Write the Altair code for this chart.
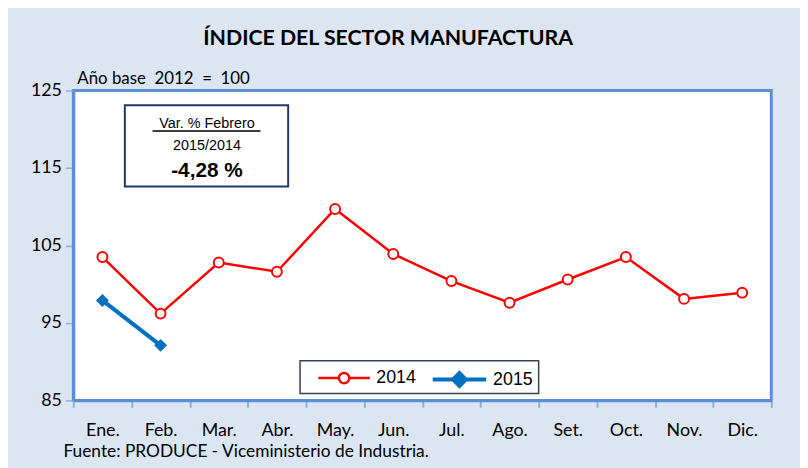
import altair as alt
import pandas as pd

months = ["Ene.", "Feb.", "Mar.", "Abr.", "May.", "Jun.", "Jul.", "Ago.", "Set.", "Oct.", "Nov.", "Dic."]
v2014 = [103.5, 96.2, 102.8, 101.6, 109.7, 103.9, 100.4, 97.6, 100.6, 103.5, 98.1, 98.9]
v2015 = [97.9, 92.1]
y_ticks = [85, 95, 105, 115, 125]
title_text = "ÍNDICE DEL SECTOR MANUFACTURA"
base_text = "Año base\u00a0 2012\u00a0 =\u00a0 100"
source_text = "Fuente: PRODUCE - Viceministerio de Industria."
box_lines = ["Var. % Febrero", "2015/2014", "-4,28 %"]

RED = "#ff0000"
BLUE = "#0070c0"
FRAME = "#5a8fd6"
CAL = "Lato"
ARIAL = "Liberation Sans"

df14 = pd.DataFrame({"mes": months, "valor": v2014, "serie": "2014"})
df15 = pd.DataFrame({"mes": months[:len(v2015)], "valor": v2015, "serie": "2015"})

x = alt.X("mes:N", sort=months,
          scale=alt.Scale(type="band", domain=months, paddingInner=0, paddingOuter=0),
          bandPosition=0.5,
          axis=alt.Axis(title=None, labelAngle=0, tickBand="extent", tickSize=7,
                        labelPadding=14, labelFont=CAL, labelFontSize=18, labelColor="black",
                        tickColor="#8cafe0", tickWidth=2, domainColor=FRAME, domainWidth=3))
y = alt.Y("valor:Q", scale=alt.Scale(domain=[85, 125], nice=False, zero=False),
          axis=alt.Axis(title=None, values=y_ticks, grid=False, tickSize=8, labelPadding=4,
                        labelFont=CAL, labelFontSize=18, labelColor="black",
                        tickColor="#8cafe0", tickWidth=1.5, domainColor=FRAME, domainWidth=3))

path14 = "M-1,0L-0.2,0M0.2,0L1,0M0.2,0A0.2,0.2,0,1,1,-0.2,0A0.2,0.2,0,1,1,0.2,0Z"
path15 = "M-1,0L-0.24,0M0.24,0L1,0M0,-0.24L0.24,0L0,0.24L-0.24,0Z"

leg_common = dict(orient="none", title=None, labelFont=ARIAL, labelFontSize=18,
                  labelColor="black", labelOffset=5, padding=0)

line14 = alt.Chart(df14).mark_line(strokeWidth=2.5).encode(
    x=x, y=y,
    color=alt.Color("serie:N", scale=alt.Scale(domain=["2014"], range=[RED]),
                    legend=alt.Legend(legendX=246, legendY=263, symbolType=path14,
                                      symbolSize=2704, symbolStrokeWidth=2.5,
                                      symbolFillColor="white", **leg_common)))
pts14 = alt.Chart(df14).mark_point(shape="circle", filled=True, fill="white", stroke=RED,
                                   strokeWidth=2, size=100, opacity=1).encode(x=x, y=y)

line15 = alt.Chart(df15).mark_line(strokeWidth=4).encode(
    x=x, y=y,
    color=alt.Color("serie:N", scale=alt.Scale(domain=["2015"], range=[BLUE]),
                    legend=alt.Legend(legendX=361, legendY=263, symbolType=path15,
                                      symbolSize=2916, symbolStrokeWidth=4,
                                      symbolFillColor=BLUE, **leg_common)))
pts15 = alt.Chart(df15).mark_point(shape="diamond", filled=True, color=BLUE,
                                   size=170, opacity=1).encode(x=x, y=y)

one = pd.DataFrame({"k": [0]})
box = alt.Chart(one).mark_rect(fill="white", stroke="#203864", strokeWidth=2).encode(
    x=alt.value(52), x2=alt.value(217), y=alt.value(15), y2=alt.value(97))
legbox = alt.Chart(one).mark_rect(fill="white", stroke="#34405a", strokeWidth=1.5).encode(
    x=alt.value(229), x2=alt.value(470), y=alt.value(273), y2=alt.value(306))
underline = alt.Chart(one).mark_rule(color="black", strokeWidth=1.5).encode(
    x=alt.value(80), x2=alt.value(189), y=alt.value(41))


def txt(s, xv, yv, **kw):
    return alt.Chart(pd.DataFrame({"t": [s]})).mark_text(baseline="alphabetic", **kw).encode(
        x=alt.value(xv), y=alt.value(yv), text="t:N")


t_title = txt(title_text, 318, -46, font=CAL, fontSize=21.5, fontWeight="bold", align="center", color="black")
t_base = txt(base_text, 4, -7, font=CAL, fontSize=17, align="left", color="black")
t_src = txt(source_text, -10, 370, font=CAL, fontSize=17.5, align="left", color="black")
t_b1 = txt(box_lines[0], 135, 38, font=ARIAL, fontSize=14.5, align="center", color="black")
t_b2 = txt(box_lines[1], 135, 60, font=ARIAL, fontSize=14.5, align="center", color="black")
t_b3 = txt(box_lines[2], 135, 87, font=ARIAL, fontSize=21, fontWeight="bold", align="center", color="black")

chart = alt.layer(
    box, legbox, underline, t_title, t_base, t_src, t_b1, t_b2, t_b3,
    line14, pts14, line15, pts15
).resolve_scale(color="independent").properties(
    width=705, height=313,
    autosize=alt.AutoSizeParams(type="none"),
    padding={"left": 66, "top": 81, "right": 29, "bottom": 66},
    background="#dce6f2",
).configure_view(fill="white", stroke=FRAME, strokeWidth=3)

chart.save("out.html", embed_options={"renderer": "svg", "actions": False})
